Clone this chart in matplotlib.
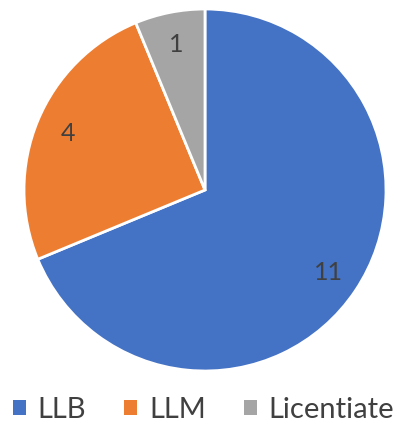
import matplotlib.pyplot as plt
from matplotlib.patches import Patch

labels = ['LLB', 'LLM', 'Licentiate']
values = [11, 4, 1]
colors = ['#4472C4', '#ED7D31', '#A5A5A5']

plt.rcParams['font.family'] = ['Lato', 'DejaVu Sans']

fig = plt.figure(figsize=(4.07, 4.37), dpi=100)
W, H = 407, 437
cx, cy, r = 205, 190, 181
ax = fig.add_axes([(cx - r) / W, (H - cy - r) / H, 2 * r / W, 2 * r / H])

wedges, texts = ax.pie(values, colors=colors, startangle=90, counterclock=False,
                       labels=[str(v) for v in values], labeldistance=0.82,
                       wedgeprops=dict(edgecolor='white', linewidth=2, clip_on=False),
                       textprops=dict(color='#404040', fontsize=18, ha='center', va='center'))
ax.set_xlim(-1, 1)
ax.set_ylim(-1, 1)
ax.set_aspect('equal')

handles = [Patch(facecolor=c, edgecolor='none') for c in colors]
fig.legend(handles, labels, loc='center', bbox_to_anchor=(0.5, 1 - 410 / H),
           ncol=3, frameon=False, fontsize=21, handlelength=0.45, handleheight=0.45,
           handletextpad=0.4, columnspacing=1.3, labelcolor='#404040')

fig.savefig('out.png', dpi=100)
